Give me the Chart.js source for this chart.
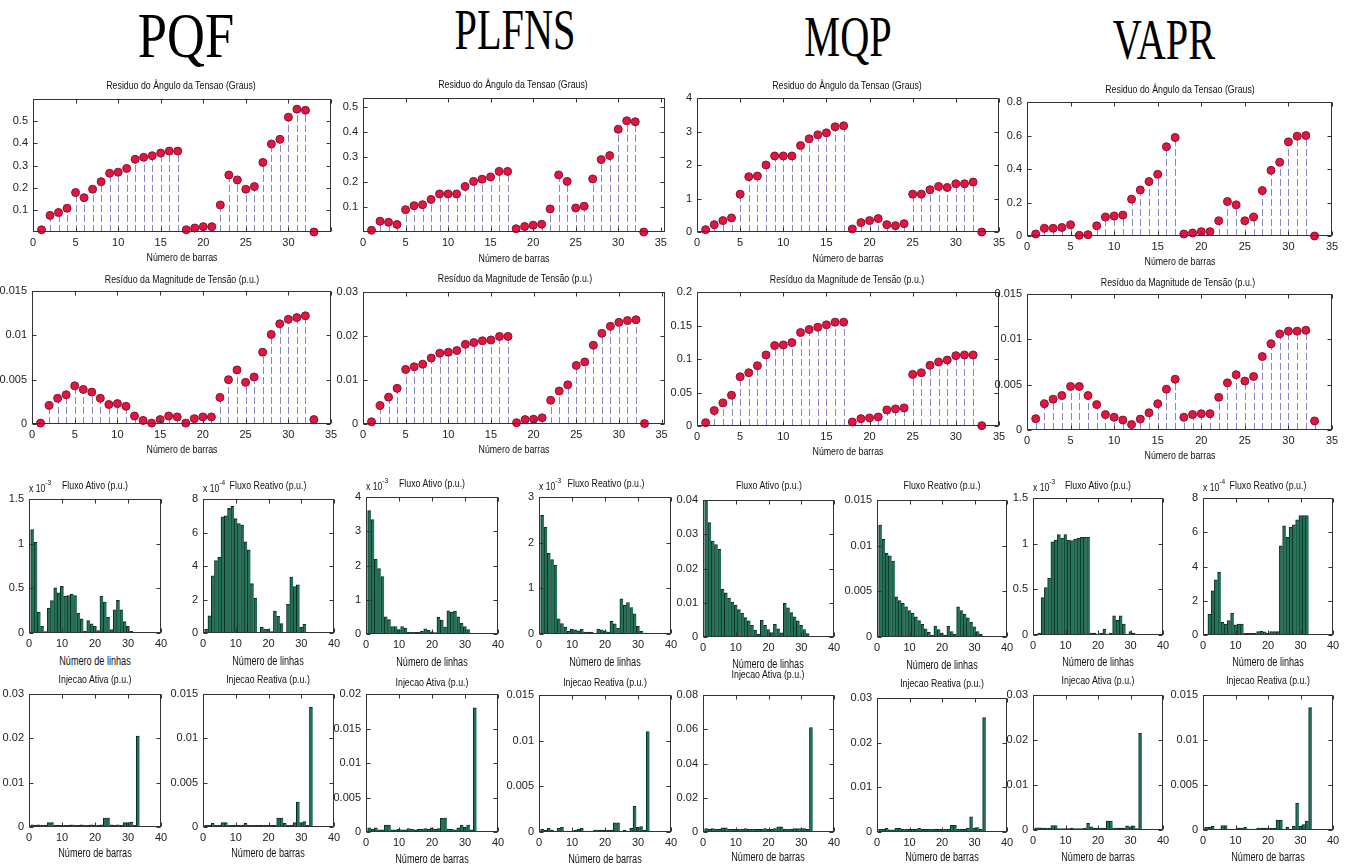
<!DOCTYPE html>
<html><head><meta charset="utf-8">
<script src="https://cdn.jsdelivr.net/npm/chart.js@4.4.1/dist/chart.umd.min.js"></script>
<style>
body{margin:0;background:#fff;width:1349px;height:867px;position:relative;overflow:hidden;font-family:'Liberation Sans',Arial,sans-serif;}
canvas{position:absolute;}
.t{position:absolute;white-space:nowrap;color:#111;transform:translate(-50%,-50%) scaleX(0.8);line-height:1;}
.u{position:absolute;white-space:nowrap;color:#111;transform:translate(-50%,-50%) scaleX(0.76);line-height:1;}
.m{position:absolute;white-space:nowrap;color:#111;line-height:1;transform-origin:0 0;transform:scaleX(0.82);}
.m sup{font-size:8px;position:relative;top:-2px;}
.h{position:absolute;white-space:nowrap;font-family:'Liberation Serif','Times New Roman',serif;color:#000;transform:translate(-50%,-50%) scaleX(0.72);line-height:1;}
</style></head><body>
<script>
// ---------- categories ----------
const busNumbers=[1,2,3,4,5,6,7,8,9,10,11,12,13,14,15,16,17,18,19,20,21,22,23,24,25,26,27,28,29,30,31,32,33];
const lineNumbers=[1,2,3,4,5,6,7,8,9,10,11,12,13,14,15,16,17,18,19,20,21,22,23,24,25,26,27,28,29,30,31,32];

// ---------- voltage angle residual (degrees) ----------
const pqfAngle=[0.01,0.075,0.088,0.107,0.178,0.155,0.193,0.227,0.265,0.27,0.287,0.328,0.337,0.344,0.356,0.365,0.365,0.01,0.018,0.024,0.024,0.122,0.257,0.235,0.193,0.205,0.314,0.397,0.418,0.518,0.554,0.549,0.0];
const plfnsAngle=[0.007,0.043,0.039,0.03,0.089,0.105,0.109,0.13,0.152,0.152,0.152,0.182,0.202,0.211,0.22,0.242,0.242,0.013,0.022,0.027,0.031,0.092,0.228,0.202,0.096,0.103,0.212,0.289,0.305,0.41,0.444,0.44,0.0];
const mqpAngle=[0.07,0.22,0.34,0.42,1.13,1.65,1.67,2.0,2.27,2.27,2.27,2.58,2.78,2.9,2.96,3.14,3.17,0.09,0.28,0.34,0.4,0.22,0.19,0.25,1.13,1.13,1.26,1.36,1.33,1.44,1.44,1.49,0.0];
const vaprAngle=[0.012,0.046,0.046,0.051,0.067,0.004,0.008,0.061,0.113,0.119,0.125,0.22,0.275,0.325,0.368,0.533,0.588,0.012,0.018,0.026,0.026,0.091,0.206,0.186,0.091,0.113,0.271,0.392,0.44,0.562,0.596,0.6,0.0];

// ---------- voltage magnitude residual (p.u.) ----------
const pqfMag=[0.0001,0.0021,0.0029,0.0033,0.0043,0.0039,0.0036,0.0029,0.0022,0.0023,0.002,0.0009,0.0004,0.0001,0.0005,0.0009,0.0008,0.0001,0.0006,0.0008,0.0008,0.003,0.005,0.0061,0.0047,0.0053,0.0081,0.0101,0.0113,0.0118,0.012,0.0122,0.0005];
const plfnsMag=[0.0005,0.0042,0.0061,0.0081,0.0124,0.013,0.0136,0.015,0.0161,0.0163,0.0167,0.0181,0.0185,0.0189,0.0191,0.0199,0.0199,0.0003,0.001,0.0011,0.0014,0.0054,0.0075,0.0089,0.0133,0.0141,0.0179,0.0206,0.0222,0.0231,0.0235,0.0237,0.0001];
const mqpMag=[0.005,0.023,0.0345,0.046,0.0735,0.0795,0.09,0.106,0.12,0.121,0.1245,0.1395,0.144,0.1475,0.151,0.155,0.155,0.006,0.011,0.012,0.0135,0.024,0.0255,0.027,0.077,0.0795,0.0905,0.0955,0.0985,0.105,0.106,0.106,0.0005];
const vaprMag=[0.00125,0.0029,0.0034,0.0038,0.0048,0.0048,0.0038,0.0028,0.0017,0.0014,0.0011,0.0006,0.0012,0.0019,0.0029,0.0045,0.0056,0.0014,0.0017,0.0018,0.0018,0.0036,0.0052,0.0061,0.0054,0.0059,0.0081,0.0095,0.0106,0.0109,0.0109,0.011,0.001];

// ---------- line flows (values in the axis units shown, x10^-3 / x10^-4 where labelled) ----------
const pqfFluxoAtivo=[1.157,1.015,0.235,0.075,0.015,0.28,0.362,0.507,0.451,0.522,0.41,0.42,0.437,0.418,0.224,0.16,0.019,0.138,0.104,0.075,0.026,0.414,0.347,0.175,0.037,0.26,0.366,0.26,0.127,0.075,0.019,0.008];
const pqfFluxoReativo=[0.24,1.03,3.42,4.32,4.52,6.93,6.99,7.44,7.56,6.83,6.53,6.45,5.45,4.96,2.95,2.09,0.06,0.34,0.24,0.22,0.08,1.31,1.0,0.56,0.04,1.71,3.34,2.77,2.87,0.34,0.52,0.04];
const plfnsFluxoAtivo=[3.6,3.34,2.19,1.91,1.68,0.5,0.42,0.22,0.22,0.13,0.22,0.17,0.05,0.05,0.05,0.05,0.08,0.15,0.11,0.06,0.04,0.49,0.41,0.2,0.68,0.63,0.67,0.5,0.32,0.22,0.13,0.03];
const plfnsFluxoReativo=[2.6,2.34,1.77,1.63,1.51,0.33,0.23,0.15,0.06,0.11,0.09,0.07,0.11,0.04,0.04,0.04,0.02,0.11,0.09,0.07,0.04,0.28,0.22,0.13,0.77,0.63,0.69,0.58,0.44,0.17,0.06,0.02];
const mqpFluxoAtivo=[0.04,0.0334,0.028,0.027,0.0256,0.014,0.0129,0.0114,0.0102,0.0093,0.008,0.007,0.0057,0.0047,0.0034,0.002,0.0008,0.0049,0.0034,0.0022,0.0013,0.0037,0.0024,0.0012,0.0098,0.0085,0.0071,0.0059,0.0047,0.0034,0.0022,0.001];
const mqpFluxoReativo=[0.01225,0.0107,0.00915,0.0089,0.0083,0.0044,0.004,0.0037,0.0033,0.0029,0.0026,0.0022,0.0018,0.0014,0.0009,0.0005,0.0002,0.0012,0.0008,0.0004,0.0002,0.0012,0.0006,0.0003,0.0033,0.0029,0.0025,0.0021,0.0016,0.0011,0.0006,0.0003];
const vaprFluxoAtivo=[0.01,0.02,0.41,0.52,0.62,1.02,1.04,1.1,1.06,1.1,1.04,1.035,1.05,1.06,1.07,1.07,1.07,0.02,0.02,0.01,0.02,0.066,0.01,0.02,0.21,0.16,0.21,0.12,0.01,0.037,0.02,0.01];
const vaprFluxoReativo=[0.06,1.21,2.58,3.22,3.67,0.74,0.64,0.84,1.27,0.59,0.64,0.64,0.1,0.1,0.1,0.1,0.2,0.21,0.18,0.1,0.2,0.2,0.2,5.21,6.38,5.7,6.3,6.44,6.73,6.98,6.98,6.98];

// ---------- bus injections (p.u.) ----------
const pqfInjAtiva=[0.0005,0.0004,0.0005,0.0004,0.0004,0.001,0.001,0.0004,0.0004,0.0004,0.0004,0.0004,0.0005,0.0004,0.0004,0.0005,0.0004,0.0004,0.0005,0.0004,0.0004,0.0005,0.002,0.002,0.0005,0.0004,0.0005,0.0004,0.001,0.001,0.0011,0.0004,0.0205];
const pqfInjReativa=[0.0002,0.0002,0.0004,0.0002,0.0002,0.0005,0.0005,0.0002,0.0002,0.0002,0.0002,0.0002,0.0004,0.0002,0.0002,0.0002,0.0002,0.0002,0.0002,0.0002,0.0002,0.0002,0.001,0.001,0.0004,0.0002,0.0002,0.0005,0.0028,0.0005,0.0006,0.0002,0.0135];
const plfnsInjAtiva=[0.0006,0.0004,0.0006,0.0003,0.0003,0.001,0.001,0.0003,0.0003,0.0004,0.0003,0.0003,0.0005,0.0004,0.0003,0.0004,0.0004,0.0005,0.0004,0.0006,0.0004,0.0005,0.002,0.002,0.0004,0.0004,0.0003,0.0006,0.001,0.0007,0.001,0.0003,0.018];
const plfnsInjReativa=[0.0003,0.0002,0.0004,0.0002,0.0001,0.0004,0.0005,0.0001,0.0001,0.0001,0.0002,0.0003,0.0004,0.0001,0.0001,0.0001,0.0002,0.0002,0.0002,0.0002,0.0002,0.0002,0.001,0.001,0.0001,0.0002,0.0001,0.0004,0.0028,0.0005,0.0006,0.0002,0.011];
const mqpInjAtiva=[0.002,0.0015,0.002,0.0015,0.0015,0.0025,0.0025,0.0015,0.0015,0.0015,0.0015,0.0015,0.002,0.0015,0.0015,0.0015,0.0015,0.0015,0.002,0.0015,0.0015,0.002,0.003,0.003,0.0015,0.0015,0.0015,0.002,0.002,0.002,0.002,0.0015,0.061];
const mqpInjReativa=[0.0006,0.0006,0.0009,0.0005,0.0005,0.0008,0.0008,0.0006,0.0006,0.0006,0.0006,0.0006,0.0008,0.0006,0.0006,0.0006,0.0006,0.0006,0.0006,0.0006,0.0006,0.0006,0.0015,0.0015,0.0006,0.0006,0.0006,0.0009,0.0034,0.0009,0.001,0.0006,0.0256];
const vaprInjAtiva=[0.0005,0.0005,0.0004,0.0004,0.0004,0.001,0.001,0.0003,0.0003,0.0003,0.0003,0.0004,0.0003,0.0003,0.0003,0.0004,0.0015,0.0007,0.0004,0.0004,0.0004,0.0004,0.002,0.002,0.0004,0.0004,0.0004,0.0004,0.0009,0.0007,0.0009,0.0003,0.0215];
const vaprInjReativa=[0.0003,0.0003,0.0004,0.0001,0.0001,0.0005,0.0005,0.0001,0.0001,0.0001,0.0002,0.0002,0.0003,0.0001,0.0001,0.0001,0.0002,0.0002,0.0002,0.0002,0.0002,0.0002,0.0011,0.0011,0.0001,0.0003,0.0001,0.0004,0.003,0.0004,0.0006,0.001,0.0136];

// ---------- tick labels ----------
const ticksStemX=[0,5,10,15,20,25,30,35];
const ticksBarX=[0,10,20,30,40];
const ticksAngleLow=[0.1,0.2,0.3,0.4,0.5];
const ticksAngleMQP=[0,1,2,3,4];
const ticksAngleVAPR=[0,0.2,0.4,0.6,0.8];
const ticksMag015=[0,0.005,0.01,0.015];
const ticksMag03=[0,0.01,0.02,0.03];
const ticksMag2=[0,0.05,0.1,0.15,0.2];
const ticks15=[0,0.5,1,1.5];
const ticks8=[0,2,4,6,8];
const ticks4=[0,1,2,3,4];
const ticks3=[0,1,2,3];
const ticks04=[0,0.01,0.02,0.03,0.04];
const ticks03=[0,0.01,0.02,0.03];
const ticks02=[0,0.005,0.01,0.015,0.02];
const ticks08=[0,0.02,0.04,0.06,0.08];

// ---------- text ----------
const methodNames=['PQF','PLFNS','MQP','VAPR'];
const titleAngle='Residuo do Ângulo da Tensao (Graus)';
const titleMag='Resíduo da Magnitude de Tensão (p.u.)';
const titleFA='Fluxo Ativo  (p.u.)';
const titleFR='Fluxo Reativo (p.u.)';
const titleIA='Injecao Ativa (p.u.)';
const titleIR='Injecao Reativa (p.u.)';
const xlabBarras='Número de barras';
const xlabLinhas='Número de linhas';

const FONT="'Liberation Sans',Arial,sans-serif";
const PADL=44,PADR=22,PADT=12,PADB=20;

function fmt(v){const r=Math.round(v*1e6)/1e6;return String(r);}

const frame={id:'frame',afterDraw(chart){
  const {ctx,chartArea:a,scales}=chart;const x=scales.x,y=scales.y;
  ctx.save();ctx.strokeStyle='#333';ctx.lineWidth=1;
  const L=Math.round(a.left)+0.5,R=Math.round(a.right)-0.5,T=Math.round(a.top)+0.5,B=Math.round(a.bottom)-0.5;
  ctx.strokeRect(L,T,R-L,B-T);
  ctx.beginPath();
  x.ticks.forEach(t=>{const p=Math.round(x.getPixelForValue(t.value))+0.5;ctx.moveTo(p,B);ctx.lineTo(p,B-4);ctx.moveTo(p,T);ctx.lineTo(p,T+4);});
  y.ticks.forEach(t=>{const p=Math.round(y.getPixelForValue(t.value))+0.5;ctx.moveTo(L,p);ctx.lineTo(L+4,p);ctx.moveTo(R,p);ctx.lineTo(R-4,p);});
  ctx.stroke();ctx.restore();
}};
const stems={id:'stems',beforeDatasetsDraw(chart,args,opts){
  if(!opts.on)return;
  const {ctx,scales:{y}}=chart;const meta=chart.getDatasetMeta(0);const y0=y.getPixelForValue(0);
  ctx.save();ctx.strokeStyle='#8a86c6';ctx.lineWidth=1;ctx.setLineDash([7,3]);
  meta.data.forEach(p=>{const px=Math.round(p.x)+0.5;ctx.beginPath();ctx.moveTo(px,y0);ctx.lineTo(px,p.y);ctx.stroke();});
  ctx.restore();
}};

function makeChart(o){
  const [l,t,r,b]=o.rect;
  const cv=document.createElement('canvas');
  const W=r-l+PADL+PADR,H=b-t+PADT+PADB;
  cv.width=W;cv.height=H;cv.style.left=(l-PADL)+'px';cv.style.top=(t-PADT)+'px';
  cv.style.width=W+'px';cv.style.height=H+'px';
  document.body.appendChild(cv);
  const pts=o.xs.map((x,i)=>({x:x,y:o.ys[i]}));
  const isStem=o.kind==='stem';
  const ds=isStem?{data:pts,pointRadius:4,pointBackgroundColor:'#e2163b',pointBorderColor:'#86103f',pointBorderWidth:1,showLine:false,clip:false}
                 :{data:pts,backgroundColor:'#227259',borderColor:'#0b2a20',borderWidth:{left:1,top:1,right:0,bottom:0},barPercentage:1,categoryPercentage:1,borderSkipped:false};
  const hx=o.hideX||[],hy=o.hideY||[];
  new Chart(cv,{
    type:isStem?'scatter':'bar',
    data:{datasets:[ds]},
    options:{
      responsive:false,animation:false,devicePixelRatio:1,
      layout:{padding:{left:0,right:PADR,top:PADT,bottom:0}},
      plugins:{legend:{display:false},tooltip:{enabled:false},title:{display:false},stems:{on:isStem}},
      scales:{
        x:{type:'linear',offset:false,min:o.xmin,max:o.xmax,
           afterBuildTicks:s=>{s.ticks=o.xt.map(v=>({value:v}));},
           afterFit:s=>{s.height=PADB;},
           grid:{display:false,drawTicks:false},border:{display:false},
           ticks:{font:{family:FONT,size:11},color:'#222',padding:4,maxRotation:0,autoSkip:false,callback:v=>hx.includes(v)?'':fmt(v)}},
        y:{type:'linear',min:o.ymin,max:o.ymax,
           afterBuildTicks:s=>{s.ticks=o.yt.map(v=>({value:v}));},
           afterFit:s=>{s.width=PADL;},
           grid:{display:false,drawTicks:false},border:{display:false},
           ticks:{font:{family:FONT,size:11},color:'#222',padding:5,autoSkip:false,callback:v=>hy.includes(v)?'':fmt(v)}}
      }
    },
    plugins:[frame,stems]
  });
}
function text(s,cx,cy,size,cls){const d=document.createElement('div');d.className=cls||'t';d.textContent=s;d.style.left=cx+'px';d.style.top=cy+'px';d.style.fontSize=size+'px';document.body.appendChild(d);return d;}
function mult(exp,x,y){const d=document.createElement('div');d.className='m';d.style.left=x+'px';d.style.top=y+'px';d.style.fontSize='10.5px';d.innerHTML='x 10<sup>'+exp+'</sup>';document.body.appendChild(d);}

// headers
const hq=text(methodNames[0],186,36,64,'h');hq.style.transform='translate(-50%,-50%) scaleX(0.82)';
text(methodNames[1],515,30,56,'h');
text(methodNames[2],848,37,56,'h');
text(methodNames[3],1164,40,56,'h');

// ---- row 1: angle stems ----
makeChart({kind:'stem',rect:[33,99,331,232],xs:busNumbers,ys:pqfAngle,xmin:0,xmax:35,xt:ticksStemX,hideX:[35],ymin:0,ymax:0.6,yt:ticksAngleLow});
makeChart({kind:'stem',rect:[363,98,665,232],xs:busNumbers,ys:plfnsAngle,xmin:0,xmax:35.5,xt:ticksStemX,ymin:0,ymax:0.535,yt:ticksAngleLow});
makeChart({kind:'stem',rect:[697,98,999,232],xs:busNumbers,ys:mqpAngle,xmin:0,xmax:35,xt:ticksStemX,ymin:0,ymax:4,yt:ticksAngleMQP});
makeChart({kind:'stem',rect:[1027,102,1332,236],xs:busNumbers,ys:vaprAngle,xmin:0,xmax:35,xt:ticksStemX,ymin:0,ymax:0.8,yt:ticksAngleVAPR});
text(titleAngle,181,85,11);text(titleAngle,513,84,11);text(titleAngle,847,85,11);text(titleAngle,1180,89,11);
text(xlabBarras,182,257,11);text(xlabBarras,514,258,11);text(xlabBarras,848,258,11);text(xlabBarras,1180,261,11);

// ---- row 2: magnitude stems ----
makeChart({kind:'stem',rect:[32,291,331,424],xs:busNumbers,ys:pqfMag,xmin:0,xmax:35,xt:ticksStemX,ymin:0,ymax:0.015,yt:ticksMag015});
makeChart({kind:'stem',rect:[363,292,665,424],xs:busNumbers,ys:plfnsMag,xmin:0,xmax:35.4,xt:ticksStemX,ymin:0,ymax:0.03,yt:ticksMag03});
makeChart({kind:'stem',rect:[697,292,999,426],xs:busNumbers,ys:mqpMag,xmin:0,xmax:35,xt:ticksStemX,ymin:0,ymax:0.2,yt:ticksMag2});
makeChart({kind:'stem',rect:[1027,294,1332,430],xs:busNumbers,ys:vaprMag,xmin:0,xmax:35,xt:ticksStemX,ymin:0,ymax:0.015,yt:ticksMag015});
text(titleMag,182,279,11);text(titleMag,515,278,11);text(titleMag,847,279,11);text(titleMag,1178,282,11);
text(xlabBarras,182,449,11);text(xlabBarras,514,449,11);text(xlabBarras,848,451,11);text(xlabBarras,1180,455,11);

// ---- flows ----
makeChart({kind:'bar',rect:[29,499,161,633],xs:lineNumbers,ys:pqfFluxoAtivo,xmin:0,xmax:40,xt:ticksBarX,ymin:0,ymax:1.5,yt:ticks15});
makeChart({kind:'bar',rect:[203,499,334,633],xs:lineNumbers,ys:pqfFluxoReativo,xmin:0,xmax:40,xt:ticksBarX,ymin:0,ymax:8,yt:ticks8});
makeChart({kind:'bar',rect:[366,497,498,634],xs:lineNumbers,ys:plfnsFluxoAtivo,xmin:0,xmax:40,xt:ticksBarX,ymin:0,ymax:4,yt:ticks4});
makeChart({kind:'bar',rect:[539,497,671,634],xs:lineNumbers,ys:plfnsFluxoReativo,xmin:0,xmax:40,xt:ticksBarX,ymin:0,ymax:3,yt:ticks3});
makeChart({kind:'bar',rect:[703,500,834,637],xs:lineNumbers,ys:mqpFluxoAtivo,xmin:0,xmax:40,xt:ticksBarX,ymin:0,ymax:0.04,yt:ticks04});
makeChart({kind:'bar',rect:[877,500,1007,637],xs:lineNumbers,ys:mqpFluxoReativo,xmin:0,xmax:40,xt:ticksBarX,ymin:0,ymax:0.015,yt:ticksMag015});
makeChart({kind:'bar',rect:[1033,498,1163,635],xs:lineNumbers,ys:vaprFluxoAtivo,xmin:0,xmax:40,xt:ticksBarX,ymin:0,ymax:1.5,yt:ticks15});
makeChart({kind:'bar',rect:[1203,498,1333,635],xs:lineNumbers,ys:vaprFluxoReativo,xmin:0,xmax:40,xt:ticksBarX,ymin:0,ymax:8,yt:ticks8});

text(titleFA,95,485,11);text(titleFR,268,485,11);
text(titleFA,432,483,11);text(titleFR,606,483,11);
text(titleFA,769,485,11);text(titleFR,942,485,11);
text(titleFA,1098,485,11);text(titleFR,1268,485,11);
mult('-3',29,481);mult('-4',203,481);mult('-3',366,479);mult('-3',539,479);mult('-3',1033,480);mult('-4',1203,480);
text(xlabLinhas,95,661,12,'u');text(xlabLinhas,268,661,12,'u');
text(xlabLinhas,432,662,12,'u');text(xlabLinhas,605,662,12,'u');
text(xlabLinhas,768,664,12,'u');text(xlabLinhas,942,665,12,'u');
text(xlabLinhas,1098,662,12,'u');text(xlabLinhas,1268,662,12,'u');

// ---- injections ----
makeChart({kind:'bar',rect:[29,694,161,827],xs:busNumbers,ys:pqfInjAtiva,xmin:0,xmax:40,xt:ticksBarX,ymin:0,ymax:0.03,yt:ticks03});
makeChart({kind:'bar',rect:[203,694,334,827],xs:busNumbers,ys:pqfInjReativa,xmin:0,xmax:40,xt:ticksBarX,ymin:0,ymax:0.015,yt:ticksMag015});
makeChart({kind:'bar',rect:[366,694,498,832],xs:busNumbers,ys:plfnsInjAtiva,xmin:0,xmax:40,xt:ticksBarX,ymin:0,ymax:0.02,yt:ticks02});
makeChart({kind:'bar',rect:[539,695,671,832],xs:busNumbers,ys:plfnsInjReativa,xmin:0,xmax:40,xt:ticksBarX,ymin:0,ymax:0.015,yt:ticksMag015});
makeChart({kind:'bar',rect:[703,695,834,832],xs:busNumbers,ys:mqpInjAtiva,xmin:0,xmax:40,xt:ticksBarX,ymin:0,ymax:0.08,yt:ticks08});
makeChart({kind:'bar',rect:[877,698,1007,832],xs:busNumbers,ys:mqpInjReativa,xmin:0,xmax:40,xt:ticksBarX,ymin:0,ymax:0.03,yt:ticks03});
makeChart({kind:'bar',rect:[1033,695,1163,830],xs:busNumbers,ys:vaprInjAtiva,xmin:0,xmax:40,xt:ticksBarX,ymin:0,ymax:0.03,yt:ticks03});
makeChart({kind:'bar',rect:[1203,695,1333,830],xs:busNumbers,ys:vaprInjReativa,xmin:0,xmax:40,xt:ticksBarX,ymin:0,ymax:0.015,yt:ticksMag015});

text(titleIA,95,679,11);text(titleIR,268,679,11);
text(titleIA,432,682,11);text(titleIR,605,682,11);
text(titleIA,768,674,11);text(titleIR,942,683,11);
text(titleIA,1098,680,11);text(titleIR,1268,680,11);
text(xlabBarras,95,853,12,'u');text(xlabBarras,268,853,12,'u');
text(xlabBarras,432,859,12,'u');text(xlabBarras,605,859,12,'u');
text(xlabBarras,768,857,12,'u');text(xlabBarras,942,857,12,'u');
text(xlabBarras,1098,857,12,'u');text(xlabBarras,1268,857,12,'u');
</script>
</body></html>
